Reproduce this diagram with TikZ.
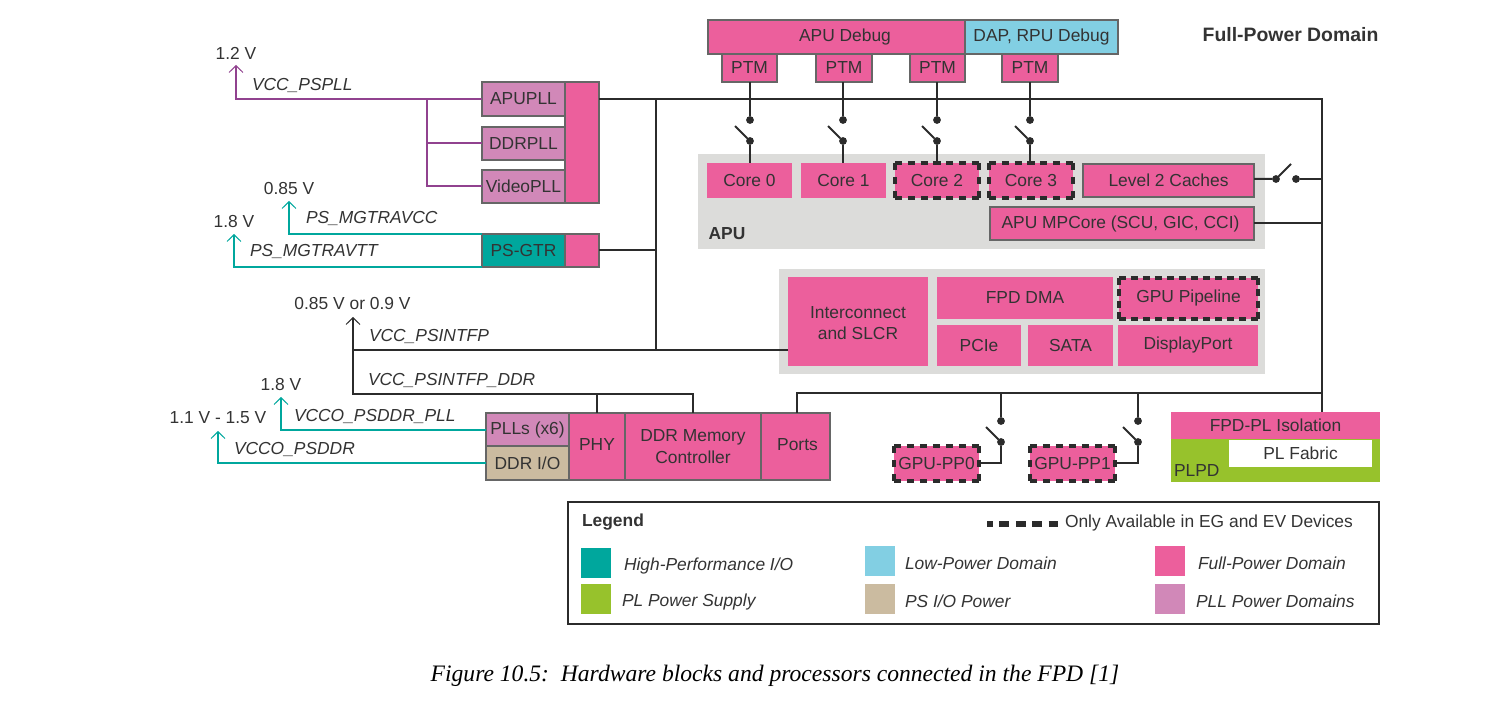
\documentclass[tikz,border=0pt]{standalone}
\usepackage{fontspec}
\setmainfont{Liberation Sans}
\newfontfamily\capfont{Liberation Serif}
\usetikzlibrary{arrows.meta}
\definecolor{fpink}{HTML}{EC5F9C}
\definecolor{fteal}{HTML}{00A79D}
\definecolor{fblue}{HTML}{82CFE3}
\definecolor{fgreen}{HTML}{97C22C}
\definecolor{ftan}{HTML}{CBBBA0}
\definecolor{fpll}{HTML}{D188B8}
\definecolor{fgrey}{HTML}{DCDCDA}
\definecolor{fstroke}{HTML}{666666}
\definecolor{ftext}{HTML}{333333}
\definecolor{fpurple}{HTML}{91428F}
\definecolor{fwire}{HTML}{2B2B2B}
\tikzset{
  x=0.5pt,y=-0.5pt,
  every node/.style={font=\fontsize{8.7pt}{10.6pt}\selectfont,text=ftext,inner sep=0pt,outer sep=0pt},
  bx/.style={rectangle,align=center},
  plain/.style={fill=fpink},
  lined/.style={fill=fpink,draw=fstroke,line width=0.95pt},
  pllbox/.style={fill=fpll,draw=fstroke,line width=0.95pt},
  greybk/.style={fill=fgrey},
  wire/.style={draw=fwire,line width=1pt,line join=miter},
  pwire/.style={draw=fpurple,line width=1pt},
  twire/.style={draw=fteal,line width=1pt},
  up/.style={-{Straight Barb[length=3.4pt,width=7pt,line width=0.5pt]}},
  dot/.style={circle,fill=fwire,minimum size=3.9pt},
  lbl/.style={font=\fontsize{8.7pt}{10.6pt}\selectfont\itshape},
  volt/.style={font=\fontsize{8.7pt}{10.6pt}\selectfont},
  hd/.style={font=\fontsize{8.7pt}{10.6pt}\selectfont\bfseries},
  title/.style={font=\fontsize{9.7pt}{11pt}\selectfont\bfseries},
}
\newcommand\bx[7][plain]{\node[bx,#1,minimum width={(#5-#3)*0.5pt},minimum height={(#6-#4)*0.5pt}] (#2) at ({(#3+#5)/2},{(#4+#6)/2}) {#7};}
\newcommand\dn{}
\newcommand\dside[3]{%
  \pgfmathsetmacro\dn{max(1,round((#3-3.6)/6.2))}%
  \pgfmathsetmacro\doff{(#3-3.6)/\dn-3.6}%
  \draw[fwire,line width=1.6pt,dash pattern=on 3.6pt off \doff pt] (#1) -- (#2);}
\newcommand\dbx[6]{% name x1 y1 x2 y2 text
  \bx{#1}{#2}{#3}{#4}{#5}{#6}
  \pgfmathsetmacro\dw{(#4-#2)*0.5}\pgfmathsetmacro\dh{(#5-#3)*0.5}%
  \edef\dwv{\dw}\edef\dhv{\dh}%
  \dside{#1.north west}{#1.north east}{\dwv}
  \dside{#1.south west}{#1.south east}{\dwv}
  \dside{#1.north west}{#1.south west}{\dhv}
  \dside{#1.north east}{#1.south east}{\dhv}}
\newcommand\swv[5]{% name, x, ytop, ylow, armx
  \node[dot] (#1t) at (#2,#3) {};
  \node[dot] (#1b) at (#2,#4) {};
  \coordinate (#1a) at (#5,{#4-15});
  \draw[wire] (#1a) -- (#1b);
}
\newcommand\low[2][-0.9pt]{\raisebox{#1}{#2}}
\begin{document}
\begin{tikzpicture}
\useasboundingbox (0,0) rectangle (1498,705);
\bx[greybk]{apubg}{698}{154}{1265}{249}{}
\bx[greybk]{iobg}{779}{269}{1265}{374}{}
% debug
\bx[lined]{apudbg}{708}{20}{965}{54}{\hspace*{8.5pt}APU Debug}
\bx[lined,fill=fblue]{dapdbg}{965}{20}{1118}{54}{DAP, RPU Debug}
\bx[lined]{ptma}{722}{54}{777}{82}{PTM}
\bx[lined]{ptmb}{816}{54}{872}{82}{PTM}
\bx[lined]{ptmc}{910}{54}{965}{82}{PTM}
\bx[lined]{ptmd}{1002}{54}{1058}{82}{PTM}
\node[title] (fpdtitle) at (1290.5,35) {Full-Power Domain};
% APU
\bx{core0}{707}{163}{792}{198}{\low[-0.4pt]{Core 0}}
\bx{core1}{801}{163}{886}{198}{\low[-0.4pt]{Core 1}}
\dbx{core2}{895}{163}{979}{198}{\low[-0.4pt]{Core 2}}
\dbx{core3}{989}{163}{1073}{198}{\low[-0.4pt]{Core 3}}
\bx[lined]{ltwo}{1083}{164}{1254}{197}{Level 2 Caches}
\bx[lined]{mpcore}{990}{207}{1254}{240}{\hspace*{-1.5pt}APU MPCore (SCU, GIC, CCI)}
\node[hd] (apulbl) at (727,234) {APU};
% PLL
\bx[lined]{pllcol}{565}{82}{599}{203}{}
\bx[pllbox]{apupll}{482}{82}{565}{116}{APUPLL}
\bx[pllbox]{ddrpll}{482}{127}{565}{160}{DDRPLL}
\bx[pllbox]{vidpll}{482}{170}{565}{203}{VideoPLL}
\bx[lined,fill=fteal]{psgtr}{482}{234}{565}{267}{PS-GTR}
\bx[lined]{gtrcol}{565}{234}{599}{267}{}
% io block
\bx{inter}{788}{277}{928}{366}{\rule{0pt}{7.3pt}Interconnect\\and SLCR}
\bx{fpddma}{937}{277}{1113}{319}{\low[-0.4pt]{FPD DMA}}
\dbx{gpupipe}{1119}{278}{1258}{319}{\low{GPU Pipeline}}
\bx{pcie}{937}{325}{1021}{366}{\low[-0.4pt]{PCIe}}
\bx{sata}{1028}{325}{1113}{366}{\low[-0.4pt]{SATA}}
\bx{dport}{1118}{325}{1258}{366}{\low{DisplayPort}}
% DDR
\bx[pllbox]{plls}{486}{413}{569}{446}{\low{PLLs (x6)}}
\bx[lined,fill=ftan]{ddrio}{486}{446}{569}{480}{DDR I/O}
\bx[lined]{phy}{569}{413}{625}{480}{\low[1.5pt]{PHY}}
\bx[lined]{ddrc}{625}{413}{761}{480}{DDR Memory\\Controller}
\bx[lined]{ports}{761}{413}{830}{480}{\hspace*{2pt}\low[1.5pt]{Ports}}
% GPU PP
\dbx{ppzero}{894}{446}{979}{481}{\low[-0.4pt]{GPU-PP0}}
\dbx{ppone}{1030}{446}{1115}{481}{\low[-0.4pt]{GPU-PP1}}
% PL
\bx{fpdpl}{1171}{412}{1380}{439}{FPD-PL Isolation}
\bx[fill=fgreen]{plpd}{1171}{439}{1380}{482}{}
\bx[fill=white]{plfab}{1229}{440}{1372}{467}{PL Fabric}
\node[volt,anchor=west] (plpdl) at (1174,471) {PLPD};
% voltages
\node[volt] (va) at (236,53) {1.2 V};
\node[volt] (vb) at (289,189) {0.85 V};
\node[volt] (vc) at (234,222) {1.8 V};
\node[volt] (vd) at (352.5,304) {0.85 V or 0.9 V};
\node[volt] (ve) at (281,385) {1.8 V};
\node[volt] (vf) at (218,418) {1.1 V - 1.5 V};
% rail labels
\node[lbl,anchor=west] (la) at (252,85) {VCC\_PSPLL};
\node[lbl,anchor=west] (lb) at (306,218) {PS\_MGTRAVCC};
\node[lbl,anchor=west] (lc) at (250,251) {PS\_MGTRAVTT};
\node[lbl,anchor=west] (ld) at (369,336) {VCC\_PSINTFP};
\node[lbl,anchor=west] (le) at (368,380) {VCC\_PSINTFP\_DDR};
\node[lbl,anchor=west] (lf) at (294,416) {VCCO\_PSDDR\_PLL};
\node[lbl,anchor=west] (lg) at (234,449) {VCCO\_PSDDR};
% purple rail
\coordinate (tipa) at (236,65);
\coordinate (corna) at (236,99);
\coordinate (brp) at (427,99);
\coordinate (brq) at (427,186.5);
\draw[pwire,up] (apupll.west) -- (corna) -- (tipa);
\draw[pwire] (brp) -- (brq) -- (brq -| vidpll.west);
\draw[pwire] (brp |- ddrpll.west) -- (ddrpll.west);
% teal rails
\coordinate (tipb) at (289,201);
\coordinate (cornb) at (289,234);
\coordinate (tipc) at (234,234);
\coordinate (cornc) at (234,267);
\draw[twire,up] (psgtr.north west) -- (cornb) -- (tipb);
\draw[twire,up] (psgtr.south west) -- (cornc) -- (tipc);
\coordinate (tipe) at (281,397);
\coordinate (corne) at (281,429.5);
\coordinate (tipf) at (218,431);
\coordinate (cornf) at (218,463);
\draw[twire,up] (plls.west) -- (corne) -- (tipe);
\draw[twire,up] (ddrio.west) -- (cornf) -- (tipf);
% black wires
\coordinate (bustr) at (1322,99);
\coordinate (buslow) at (1322,393);
\coordinate (busv) at (656,99);
\coordinate (busvb) at (656,350);
\coordinate (tipd) at (353,317);
\coordinate (psa) at (353,350);
\coordinate (psb) at (353,394);
\coordinate (ddrr) at (693,394);
\coordinate (portt) at (797,393);
\draw[wire] (apupll.east -| pllcol.east) -- (bustr) -- (fpdpl.north -| bustr);
\draw[wire] (busv) -- (busvb);
\draw[wire] (gtrcol.east) -- (gtrcol.east -| busv);
\draw[wire,up] (inter.west |- busvb) -- (psa) -- (tipd);
\draw[wire] (psa) -- (psb) -- (ddrr) -- (ddrc.north);
\draw[wire] (phy.north |- psb) -- (phy.north);
\draw[wire] (ports.north -| portt) -- (portt) -- (buslow);
% core switches
\swv{sa}{750}{120}{141}{735}
\swv{sb}{843}{120}{141}{828}
\swv{sc}{937}{120}{141}{922}
\swv{sd}{1030}{120}{141}{1015}
\draw[wire] (ptma.south -| sat) -- (sat);
\draw[wire] (ptmb.south -| sbt) -- (sbt);
\draw[wire] (ptmc.south -| sct) -- (sct);
\draw[wire] (ptmd.south -| sdt) -- (sdt);
\draw[wire] (sab) -- (sab |- core0.north);
\draw[wire] (sbb) -- (sbb |- core1.north);
\draw[wire] (scb) -- (scb |- core2.north);
\draw[wire] (sdb) -- (sdb |- core3.north);
% L2 switch
\node[dot] (lsa) at (1276,179) {};
\node[dot] (lsb) at (1296,179) {};
\coordinate (lsarm) at (1291,164);
\draw[wire] (ltwo.east |- lsa) -- (lsa) -- (lsarm);
\draw[wire] (lsb) -- (lsb -| bustr);
\draw[wire] (mpcore.east) -- (mpcore.east -| bustr);
% GPU-PP switches
\swv{pa}{1001}{421}{442}{986}
\swv{pb}{1138}{421}{442}{1123}
\draw[wire] (pat |- buslow) -- (pat);
\draw[wire] (pbt |- buslow) -- (pbt);
\coordinate (pac) at (1001,463);
\coordinate (pbc) at (1138,463);
\draw[wire] (pab) -- (pac) -- (pac -| ppzero.east);
\draw[wire] (pbb) -- (pbc) -- (pbc -| ppone.east);
% Legend
\bx[fill=none,draw=fwire,line width=1pt]{legend}{568}{502}{1379}{624}{}
\node[hd,anchor=west] (legt) at (582,522) {Legend};
\coordinate (dasha) at (987,524);
\coordinate (dashb) at (1058,524);
\draw[fwire,line width=3pt,dash pattern=on 5pt off 3.2pt,dash phase=2pt] (dasha) -- (dashb);
\node[volt,anchor=west] (legd) at (1065,523) {Only Available in EG and EV Devices};
\bx[fill=fteal]{swa}{581}{548}{611}{578}{}
\bx[fill=fgreen]{swb}{581}{584}{611}{614}{}
\bx[fill=fblue]{swc}{865}{546}{895}{576}{}
\bx[fill=ftan]{swd}{865}{584}{895}{614}{}
\bx[fill=fpink]{swe}{1155}{546}{1185}{576}{}
\bx[fill=fpll]{swf}{1155}{584}{1185}{614}{}
\node[lbl,anchor=west] (lega) at (624,566) {High-Performance I/O};
\node[lbl,anchor=west] (legb) at (622,602) {PL Power Supply};
\node[lbl,anchor=west] (legc) at (905,563) {Low-Power Domain};
\node[lbl,anchor=west] (lege) at (905,601) {PS I/O Power};
\node[lbl,anchor=west] (legf) at (1198,563) {Full-Power Domain};
\node[lbl,anchor=west] (legg) at (1196,601) {PLL Power Domains};
% caption
\node[font=\fontsize{11.8pt}{14pt}\capfont\itshape,text=black] (cap) at (775,676) {Figure 10.5:\ \ Hardware blocks and processors connected in the FPD [1]};
\end{tikzpicture}
\end{document}
